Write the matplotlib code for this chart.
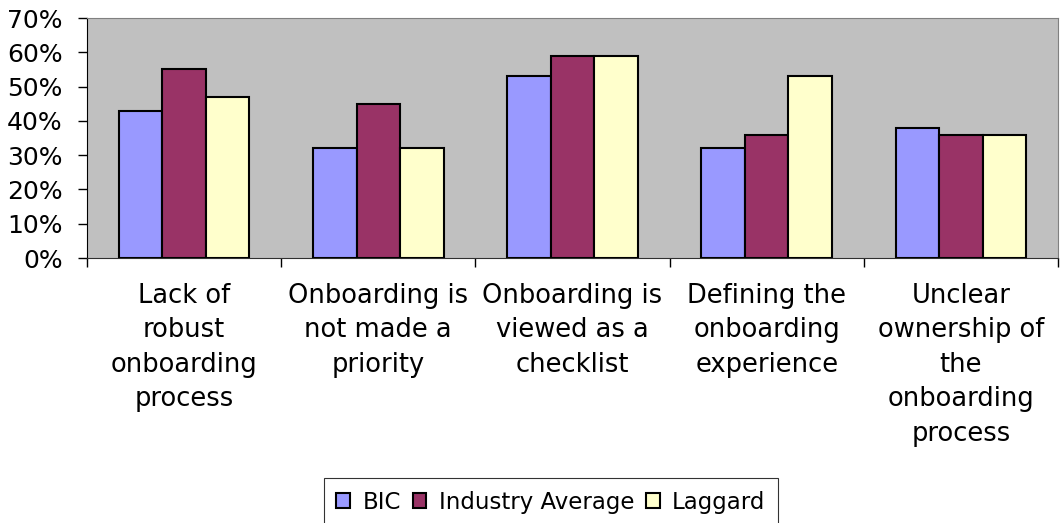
import numpy as np
import matplotlib
matplotlib.use("Agg")
import matplotlib.pyplot as plt
from matplotlib.ticker import PercentFormatter

# --- Data
categories = [
    "Lack of\nrobust\nonboarding\nprocess",
    "Onboarding is\nnot made a\npriority",
    "Onboarding is\nviewed as a\nchecklist",
    "Defining the\nonboarding\nexperience",
    "Unclear\nownership of\nthe\nonboarding\nprocess",
]
series = ["BIC", "Industry Average", "Laggard"]
bic = [43, 32, 53, 32, 38]
industry = [55, 45, 59, 36, 36]
laggard = [47, 32, 59, 53, 36]
yticks = [0, 10, 20, 30, 40, 50, 60, 70]

colors = ["#9999FF", "#993366", "#FFFFCC"]

plt.rcParams["font.family"] = ["DejaVu Sans"]

fig = plt.figure(figsize=(10.6, 5.23), dpi=100)
ax = fig.add_axes([87 / 1060, 1 - 258 / 523, (1058 - 87) / 1060, (258 - 18) / 523])
ax.set_facecolor("#C0C0C0")

x = np.arange(len(categories))
w = 0.224
for i, (name, vals) in enumerate(zip(series, [bic, industry, laggard])):
    ax.bar(x + (i - 1) * w, vals, width=w, color=colors[i], edgecolor="black",
           linewidth=1.5, label=name, zorder=3)

ax.set_xlim(-0.5, len(categories) - 0.5)
ax.set_ylim(0, 70)
ax.set_yticks(yticks)
ax.yaxis.set_major_formatter(PercentFormatter(decimals=0))
ax.tick_params(axis="y", labelsize=18, length=6.5, width=1, pad=11, colors="black")

# category labels at the centres, tick marks at the boundaries
ax.set_xticks(x)
ax.set_xticklabels(categories, fontsize=18.5, linespacing=1.42)
ax.tick_params(axis="x", which="major", length=0, pad=18)
ax.set_xticks(np.arange(-0.5, len(categories)), minor=True)
ax.tick_params(axis="x", which="minor", length=6.5, width=1)

for s in ["top", "right"]:
    ax.spines[s].set_color("#808080")
ax.spines["left"].set_color("black")
ax.spines["bottom"].set_color("#303030")

leg = fig.legend(loc="upper center", bbox_to_anchor=(551 / 1060, 1 - 478 / 523),
                 ncol=3, fontsize=16.5, frameon=True, fancybox=False, edgecolor="black",
                 handlelength=0.6, handleheight=0.6, handletextpad=0.55,
                 columnspacing=0.5, borderpad=0.55, borderaxespad=0)
leg.get_frame().set_linewidth(0.8)

fig.savefig("out.png", dpi=100)
